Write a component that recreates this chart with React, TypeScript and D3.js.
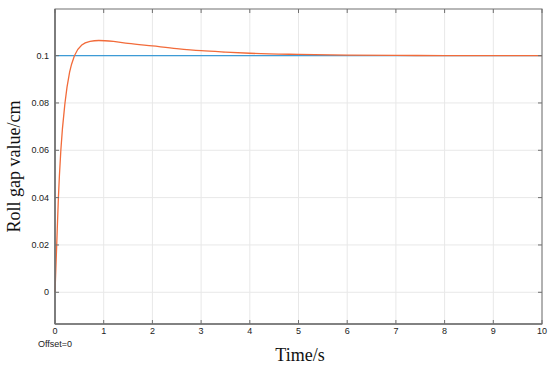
import React from "react";
import * as d3 from "d3";

const timeS = [0, 0.035, 0.07, 0.12, 0.205, 0.3, 0.4, 0.55, 0.72, 0.9, 1.2, 1.5, 2, 2.5, 3, 3.5, 4, 5, 6, 7, 8, 9, 10];
const gapCm = [0, 0.02, 0.04, 0.06, 0.08, 0.093, 0.1, 0.1045, 0.1060, 0.1064, 0.1060, 0.1052, 0.1041, 0.1030, 0.1021, 0.1015, 0.1010, 0.1005, 0.1002, 0.1001, 0.1, 0.1, 0.1];
const reference = 0.1;
const xTicks = [0, 1, 2, 3, 4, 5, 6, 7, 8, 9, 10];
const yTicks = [0, 0.02, 0.04, 0.06, 0.08, 0.1];

const W = 550, H = 368;
const L = 55, R = 542, T = 9, B = 324;

export default function App() {
  const x = d3.scaleLinear().domain([0, 10]).range([L, R]);
  const y = d3.scaleLinear().domain([-0.0134, 0.1197]).range([B, T]);
  const pts: [number, number][] = timeS.map((t, i) => [t, gapCm[i]]);
  const line = d3.line<[number, number]>().x(d => x(d[0])).y(d => y(d[1])).curve(d3.curveMonotoneX);
  const axisColor = "#707070";
  const font = "Liberation Sans, Arial, sans-serif";
  return (
    <svg width={W} height={H} style={{ position: "absolute", left: 0, top: 0, background: "#fff" }}>
      <rect x={0} y={0} width={W} height={H} fill="#fff" />
      {xTicks.map(t => (
        <line key={"gx" + t} x1={x(t)} x2={x(t)} y1={T} y2={B} stroke="#e8e8e8" strokeWidth={1} />
      ))}
      {yTicks.map(t => (
        <line key={"gy" + t} x1={L} x2={R} y1={y(t)} y2={y(t)} stroke="#e8e8e8" strokeWidth={1} />
      ))}
      <line x1={L} x2={R} y1={y(reference)} y2={y(reference)} stroke="#3d9bd6" strokeWidth={1.3} />
      <path d={line(pts) || ""} fill="none" stroke="#f26b3a" strokeWidth={1.3} />
      <rect x={L} y={T} width={R - L} height={B - T} fill="none" stroke={axisColor} strokeWidth={1} />
      <line x1={L} x2={L} y1={T} y2={B} stroke={axisColor} strokeWidth={1.6} />
      <line x1={L} x2={R} y1={B} y2={B} stroke={axisColor} strokeWidth={1.6} />
      {xTicks.map(t => (
        <g key={"tx" + t}>
          <line x1={x(t)} x2={x(t)} y1={B} y2={B - 4} stroke={axisColor} />
          <line x1={x(t)} x2={x(t)} y1={T} y2={T + 4} stroke={axisColor} />
          <text x={x(t)} y={334} textAnchor="middle" fontFamily={font} fontSize={9} fill="#222">{t}</text>
        </g>
      ))}
      {yTicks.map(t => (
        <g key={"ty" + t}>
          <line x1={L} x2={L + 4} y1={y(t)} y2={y(t)} stroke={axisColor} />
          <line x1={R} x2={R - 4} y1={y(t)} y2={y(t)} stroke={axisColor} />
          <text x={L - 6} y={y(t) + 3} textAnchor="end" fontFamily={font} fontSize={9} fill="#222">{String(t)}</text>
        </g>
      ))}
      <text x={38} y={347} fontFamily={font} fontSize={9} fill="#222">Offset=0</text>
      <text x={300} y={361} textAnchor="middle" fontFamily="Liberation Serif, Times New Roman, serif" fontSize={18} fill="#111">Time/s</text>
      <text transform={`translate(20,${(T + B) / 2}) rotate(-90)`} textAnchor="middle" fontFamily="Liberation Serif, Times New Roman, serif" fontSize={18} fill="#111">Roll gap value/cm</text>
    </svg>
  );
}
